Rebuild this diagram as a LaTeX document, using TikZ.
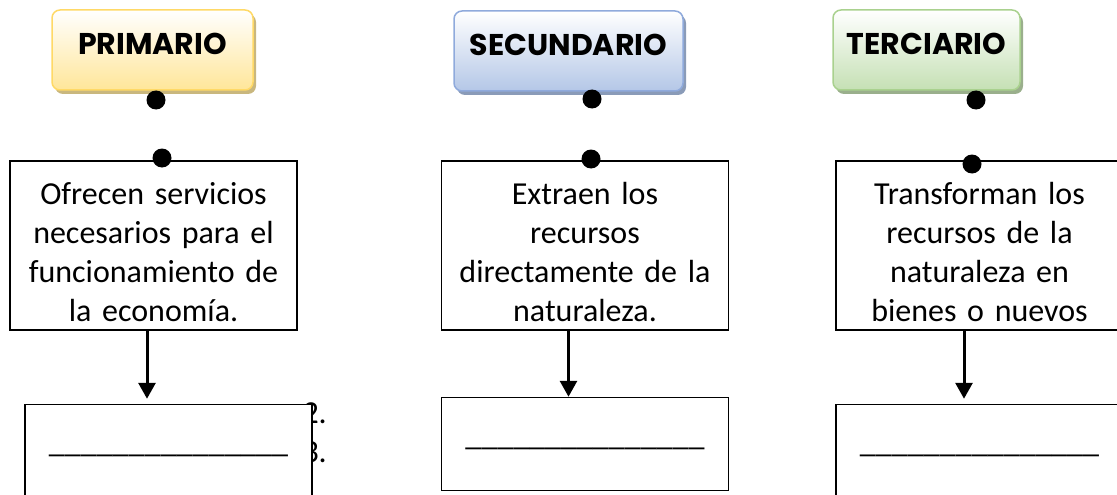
\documentclass[tikz,border=0pt]{standalone}
\usepackage{fontspec}
\setmainfont{Carlito}
\newfontfamily\headfont{Poppins}
\usetikzlibrary{arrows.meta, positioning, shadows}

\definecolor{primfill}{RGB}{255,230,153}
\definecolor{primline}{RGB}{255,217,102}
\definecolor{primshade}{RGB}{201,183,126}
\definecolor{secufill}{RGB}{180,199,231}
\definecolor{seculine}{RGB}{143,170,220}
\definecolor{secushade}{RGB}{138,155,184}
\definecolor{tercfill}{RGB}{197,224,180}
\definecolor{tercline}{RGB}{169,209,142}
\definecolor{tercshade}{RGB}{154,175,140}

\newcommand\topstrut{\rule{0pt}{36pt}}
\newcommand\blankline{\_\_\_\_\_\_\_\_\_\_\_\_\_\_\_}

\begin{document}
\begin{tikzpicture}[
    x=1pt, y=-1pt,
    every node/.style={inner sep=0pt},
    sector/.style={
            rectangle,
            rounded corners=8pt,
            line width=1.5pt,
            minimum height=80pt,
            text height=45pt,
            text depth=35pt,
            font=\headfont\bfseries\fontsize{30}{36}\selectfont
        },
    desc/.style={
            rectangle,
            draw,
            fill=white,
            line width=1.5pt,
            minimum width=287pt,
            minimum height=169pt,
            text width=280pt,
            align=center,
            font=\fontsize{32}{39}\selectfont
        },
    blank/.style={
            rectangle,
            draw,
            fill=white,
            line width=1.5pt,
            minimum width=287pt,
            minimum height=93pt,
            text height=7pt,
            font=\fontsize{32}{39}\selectfont
        },
    dot/.style={circle, fill=black, minimum size=19pt},
    arrow/.style={line width=3pt, -{Triangle[length=16pt, width=17pt]}},
    ]

    \useasboundingbox (0,0) rectangle (1117,495);

    % --- Sectors ---
    \node (prim) [sector, minimum width=201pt, top color=white, bottom color=primfill, draw=primline,
        drop shadow={shadow xshift=3pt, shadow yshift=-4pt, fill=primshade, opacity=1}] at (152.5,50) {PRIMARIO};
    \node (secu) [sector, minimum width=229pt, top color=white, bottom color=secufill, draw=seculine,
        drop shadow={shadow xshift=3pt, shadow yshift=-4pt, fill=secushade, opacity=1}] at (568.5,51) {SECUNDARIO};
    \node (terc) [sector, minimum width=187pt, top color=white, bottom color=tercfill, draw=tercline,
        drop shadow={shadow xshift=3pt, shadow yshift=-4pt, fill=tercshade, opacity=1}] at (926.5,50) {TERCIARIO};

    % --- Descriptions ---
    \node (desc1) [desc] at (153.5,245.5) {\topstrut Ofrecen servicios\\ necesarios para el\\ funcionamiento de\\ la economía.};
    \node (desc2) [desc, right=143pt of desc1] {\topstrut Extraen los\\ recursos\\ directamente de la\\ naturaleza.};
    \node (desc3) [desc, right=106pt of desc2] {\topstrut Transforman los\\ recursos de la\\ naturaleza en\\ bienes o nuevos};

    % --- Dots ---
    \node (primdot) [dot] at (156,100) {};
    \node (secudot) [dot] at (592,99) {};
    \node (tercdot) [dot] at (976,100) {};
    \node (desc1dot) [dot] at (162,158) {};
    \node (desc2dot) [dot] at (591,159) {};
    \node (desc3dot) [dot] at (972,164) {};

    % --- List numbers behind the first box ---
    \node (num2) [anchor=base east, font=\fontsize{32}{39}\selectfont] at (327,423) {2.};
    \node (num3) [anchor=base east, font=\fontsize{32}{39}\selectfont] at (327,462) {3.};

    % --- Blanks ---
    \node (blank1) [blank, below=73pt of desc1, xshift=15pt] {\blankline};
    \node (blank2) [blank, below=66pt of desc2] {\blankline};
    \node (blank3) [blank, below=73pt of desc3] {\blankline};

    % --- Arrows ---
    \draw[arrow, shorten >=5pt] ([xshift=-6.5pt]desc1.south) -- ([xshift=-21.5pt]blank1.north);
    \draw[arrow] ([xshift=-16.5pt]desc2.south) -- ([xshift=-16.5pt]blank2.north);
    \draw[arrow, shorten >=5pt] ([xshift=-15.5pt]desc3.south) -- ([xshift=-15.5pt]blank3.north);

\end{tikzpicture}
\end{document}
